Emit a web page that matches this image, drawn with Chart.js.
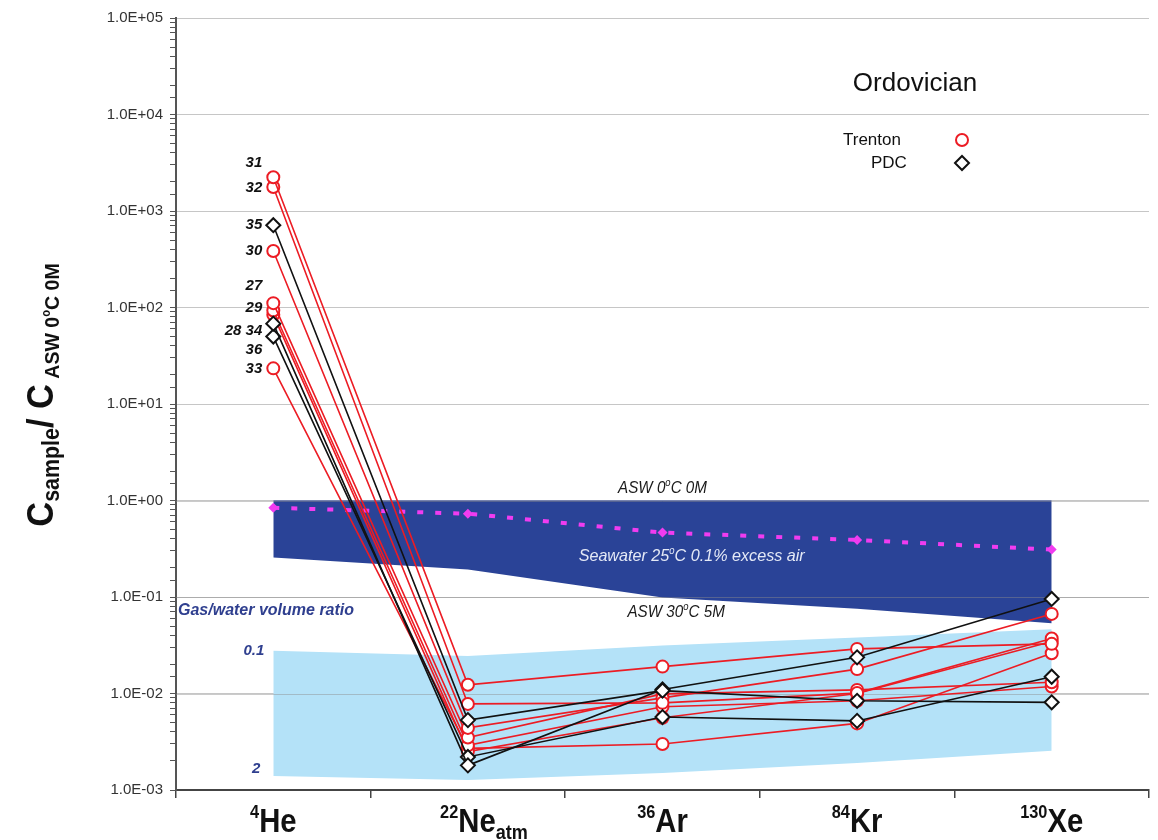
<!DOCTYPE html>
<html>
<head>
<meta charset="utf-8">
<script src="https://cdn.jsdelivr.net/npm/chart.js@4.4.1/dist/chart.umd.min.js"></script>
<style>
  body { margin: 0; background: #fff; }
  #wrap { width: 1158px; height: 840px; position: relative; }
</style>
</head>
<body>
<div id="wrap"><canvas id="myChart"></canvas></div>
<script>
// x axis: mass number, element, subscript
var massNum = ['4', '22', '36', '84', '130'];
var symbol = ['He', 'Ne', 'Ar', 'Kr', 'Xe'];
var symbolSub = ['', 'atm', '', '', ''];

// Trenton samples (red circles), C_sample / C_ASW
var trentonIds = ['31', '32', '30', '27', '29', '28', '33'];
var t31 = [2240, 0.0123, 0.0190, 0.0290, 0.0327];
var t32 = [1770, 0.0078, 0.0080, 0.0101, 0.0371];
var t30 = [385, 0.0044, 0.0090, 0.0179, 0.0668];
var t27 = [111, 0.0035, 0.0099, 0.0109, 0.0131];
var t29 = [93, 0.0029, 0.0073, 0.0084, 0.0118];
var t28 = [84, 0.0025, 0.0056, 0.0100, 0.0345];
var t33 = [23.4, 0.0027, 0.0030, 0.0049, 0.0261];

// PDC samples (black diamonds)
var pdcIds = ['35', '34', '36'];
var p35 = [713, 0.0053, 0.0107, 0.0084, 0.0081];
var p34 = [68, 0.0018, 0.0110, 0.0237, 0.0955];
var p36 = [50, 0.0022, 0.0057, 0.0052, 0.0149];

// reference fields
var aswTop = [1, 1, 1, 1, 1];                       // ASW 0C 0M
var aswBottom = [0.256, 0.193, 0.099, 0.0757, 0.0536]; // ASW 30C 5M
var gasTop = [0.0278, 0.0245, 0.0315, 0.038, 0.0464];  // gas/water 0.1
var gasBottom = [0.0014, 0.00127, 0.0015, 0.0019, 0.00255]; // gas/water 2
var seawater = [0.84, 0.73, 0.465, 0.39, 0.31];     // 25C 0.1% excess air

// sample tags next to the He column (text, y value)
var tagText = ['31', '32', '35', '30', '27', '29', '28 34', '36', '33'];
var tagAt = [3130, 1725, 713, 383, 166, 98, 56.6, 36, 22.9];

var RED = '#ec1c24';
var BLACK = '#111111';
var NAVY = '#2a4397';
var SKY = '#b4e2f8';
var SANS = '"Liberation Sans", Arial, sans-serif';

function isDecade(v) {
  var l = Math.log10(v);
  return Math.abs(l - Math.round(l)) < 1e-6;
}

function sci(v) {
  var e = Math.round(Math.log10(v));
  return '1.0E' + (e < 0 ? '-' : '+') + String(Math.abs(e)).padStart(2, '0');
}

// draws text runs (sub/superscripts); sx squeezes the text horizontally
function drawRich(ctx, parts, x, y, align, sx) {
  sx = sx || 1;
  var w = 0;
  parts.forEach(function (p) {
    ctx.font = p.font;
    p.w = ctx.measureText(p.t).width;
    w += p.w;
  });
  var start = align === 'center' ? x - w * sx / 2 : align === 'right' ? x - w * sx : x;
  ctx.save();
  ctx.translate(start, y);
  ctx.scale(sx, 1);
  ctx.textAlign = 'left';
  var cx = 0;
  parts.forEach(function (p) {
    ctx.font = p.font;
    ctx.fillText(p.t, cx, p.dy || 0);
    cx += p.w;
  });
  ctx.restore();
  return w * sx;
}

function sampleSet(label, data, color, style, radius, order) {
  return {
    label: label,
    data: data,
    borderColor: color,
    borderWidth: 1.6,
    pointStyle: style,
    pointRadius: radius,
    pointBorderWidth: 2,
    pointBorderColor: color,
    pointBackgroundColor: '#ffffff',
    fill: false,
    order: order
  };
}

var datasets = [
  { data: gasTop, fill: '+1', backgroundColor: SKY, borderWidth: 0, pointRadius: 0, order: 10 },
  { data: gasBottom, fill: false, borderWidth: 0, pointRadius: 0, order: 10 },
  { data: aswTop, fill: '+1', backgroundColor: NAVY, borderWidth: 0, pointRadius: 0, order: 10 },
  { data: aswBottom, fill: false, borderWidth: 0, pointRadius: 0, order: 10 },
  {
    data: seawater, borderColor: '#f03cf0', borderWidth: 4, borderDash: [6, 12],
    pointStyle: 'rectRot', pointRadius: 5, pointBackgroundColor: '#f03cf0',
    pointBorderWidth: 0, fill: false, order: 5
  }
];
[t31, t32, t30, t27, t29, t28, t33].forEach(function (d, i) {
  datasets.push(sampleSet('Trenton ' + trentonIds[i], d, RED, 'circle', 6, 2));
});
[p35, p34, p36].forEach(function (d, i) {
  datasets.push(sampleSet('PDC ' + pdcIds[i], d, BLACK, 'rectRot', 7, 1));
});

var extras = {
  id: 'extras',
  afterDatasetDraw: function (chart, args) {
    // grid lines stay visible over the coloured fields
    if (args.index !== 0) return;
    var ctx = chart.ctx, a = chart.chartArea, y = chart.scales.y;
    ctx.save();
    ctx.strokeStyle = 'rgba(140,140,140,0.45)';
    ctx.lineWidth = 1;
    for (var e = -2; e <= 0; e++) {
      var py = Math.round(y.getPixelForValue(Math.pow(10, e))) + 0.5;
      ctx.beginPath();
      ctx.moveTo(a.left, py);
      ctx.lineTo(a.right, py);
      ctx.stroke();
    }
    ctx.restore();
  },
  afterDraw: function (chart) {
    var ctx = chart.ctx, a = chart.chartArea;
    var xs = chart.scales.x, ys = chart.scales.y;
    ctx.save();
    ctx.textBaseline = 'alphabetic';
    ctx.fillStyle = '#111';

    // x axis labels with superscript mass numbers
    var sq = 0.86;
    symbol.forEach(function (s, i) {
      var px = xs.getPixelForValue(i);
      var parts = [
        { t: massNum[i], font: 'bold 19px ' + SANS, dy: -14 },
        { t: s, font: 'bold 34px ' + SANS }
      ];
      var w = 0;
      parts.forEach(function (p) { ctx.font = p.font; w += ctx.measureText(p.t).width; });
      if (symbolSub[i]) parts.push({ t: symbolSub[i], font: 'bold 21px ' + SANS, dy: 7 });
      drawRich(ctx, parts, px - w * sq / 2, 832, 'left', sq);
    });

    // y axis title
    ctx.save();
    ctx.translate(53, 395);
    ctx.rotate(-Math.PI / 2);
    drawRich(ctx, [
      { t: 'C', font: 'bold 37px ' + SANS },
      { t: 'sample', font: 'bold 23px ' + SANS, dy: 6 },
      { t: '/ C', font: 'bold 37px ' + SANS },
      { t: ' ASW 0', font: 'bold 21px ' + SANS, dy: 6 },
      { t: 'o', font: 'bold 12px ' + SANS, dy: -3 },
      { t: 'C 0M', font: 'bold 21px ' + SANS, dy: 6 }
    ], 0, 0, 'center', 0.93);
    ctx.restore();

    // sample numbers
    var hx = xs.getPixelForValue(0);
    ctx.font = 'bold italic 15px ' + SANS;
    ctx.textAlign = 'right';
    ctx.textBaseline = 'middle';
    tagText.forEach(function (t, i) {
      ctx.fillText(t, hx - 11, ys.getPixelForValue(tagAt[i]));
    });

    // field annotations
    ctx.textBaseline = 'middle';
    var it = 'italic 16px ' + SANS;
    var itSup = 'italic 10px ' + SANS;
    ctx.fillStyle = '#1a1a1a';
    drawRich(ctx, [
      { t: 'ASW 0', font: it }, { t: 'o', font: itSup, dy: -5 }, { t: 'C 0M', font: it }
    ], xs.getPixelForValue(2), ys.getPixelForValue(1.33), 'center', 0.95);
    drawRich(ctx, [
      { t: 'ASW 30', font: it }, { t: 'o', font: itSup, dy: -5 }, { t: 'C 5M', font: it }
    ], xs.getPixelForValue(2.07), ys.getPixelForValue(0.069), 'center', 0.95);
    ctx.fillStyle = '#e4e9f6';
    var it17 = 'italic 17px ' + SANS;
    drawRich(ctx, [
      { t: 'Seawater 25', font: it17 }, { t: 'o', font: itSup, dy: -5 },
      { t: 'C 0.1% excess air', font: it17 }
    ], xs.getPixelForValue(2.15), ys.getPixelForValue(0.262), 'center', 0.95);

    ctx.fillStyle = '#2f3f8f';
    ctx.font = 'bold italic 16px ' + SANS;
    ctx.textAlign = 'left';
    ctx.fillText('Gas/water volume ratio', a.left + 2, ys.getPixelForValue(0.072));
    ctx.font = 'bold italic 15px ' + SANS;
    ctx.textAlign = 'right';
    ctx.fillText('0.1', hx - 9, ys.getPixelForValue(0.0278));
    ctx.fillText('2', hx - 13, ys.getPixelForValue(0.00166));

    // title and legend
    ctx.fillStyle = '#111';
    ctx.textAlign = 'center';
    ctx.font = '26px ' + SANS;
    ctx.fillText('Ordovician', 915, 84);
    ctx.textAlign = 'left';
    ctx.font = '17px ' + SANS;
    ctx.fillText('Trenton', 843, 140);
    ctx.fillText('PDC', 871, 163);
    ctx.lineWidth = 2;
    ctx.fillStyle = '#fff';
    ctx.strokeStyle = RED;
    Chart.helpers.drawPoint(ctx, { pointStyle: 'circle', radius: 6, borderWidth: 2, rotation: 0 }, 962, 140);
    ctx.strokeStyle = BLACK;
    Chart.helpers.drawPoint(ctx, { pointStyle: 'rectRot', radius: 7, borderWidth: 2, rotation: 0 }, 962, 163);
    ctx.restore();
  }
};

var ctx = document.getElementById('myChart').getContext('2d');
var chart = new Chart(ctx, {
  type: 'line',
  data: { labels: symbol, datasets: datasets },
  options: {
    responsive: true,
    maintainAspectRatio: false,
    animation: false,
    events: [],
    layout: { padding: { top: 18, right: 4, bottom: 0, left: 0 } },
    plugins: { legend: { display: false }, tooltip: { enabled: false } },
    elements: { line: { tension: 0 } },
    scales: {
      x: {
        type: 'category',
        offset: true,
        ticks: { display: false },
        grid: { offset: true, drawOnChartArea: false, drawTicks: true, tickLength: 8, color: '#444', lineWidth: 1.5 },
        border: { display: true, color: '#444', width: 2 },
        afterFit: function (s) { s.height = 50; }
      },
      y: {
        type: 'logarithmic',
        min: 0.001,
        max: 100000,
        ticks: {
          autoSkip: false,
          padding: 7,
          color: '#333',
          font: { family: SANS, size: 15 },
          callback: function (v) { return isDecade(v) ? sci(v) : ''; }
        },
        grid: {
          color: function (c) { return c.tick && isDecade(c.tick.value) ? '#c6c6c6' : 'rgba(0,0,0,0)'; },
          tickColor: '#555',
          tickLength: 6,
          lineWidth: 1
        },
        border: { display: true, color: '#555', width: 2 },
        afterFit: function (s) { s.width = 176; }
      }
    }
  },
  plugins: [extras]
});
</script>
</body>
</html>
